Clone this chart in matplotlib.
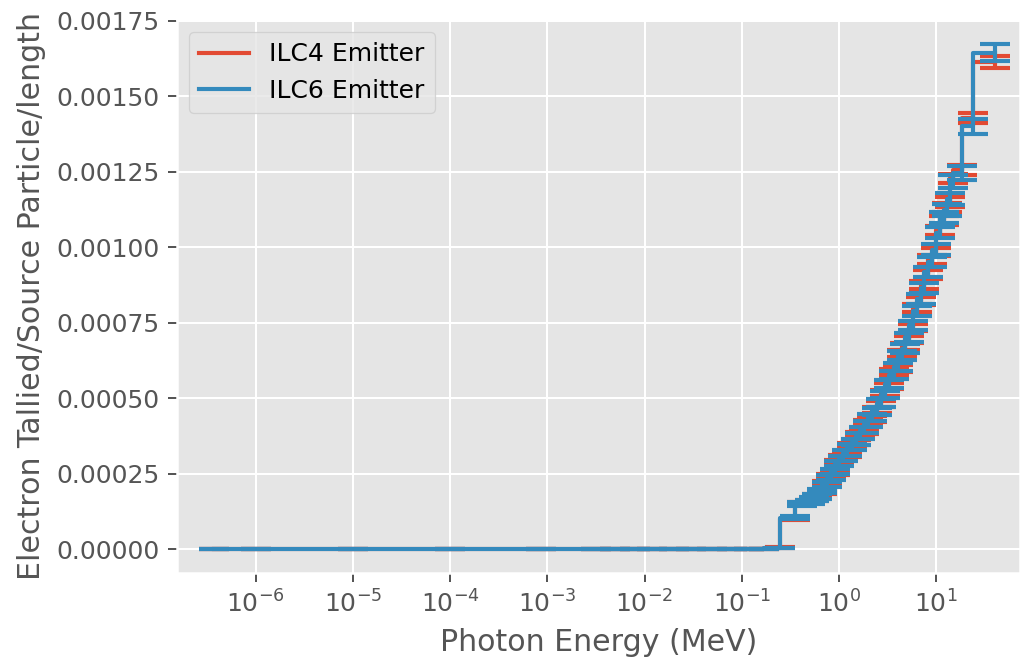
import matplotlib
matplotlib.use("Agg")
import matplotlib.pyplot as plt
from matplotlib.ticker import NullLocator

plt.style.use("ggplot")

# Upper bin edges (MeV)
energy = [3.7e-7, 1e-6, 1e-5, 1e-4, 8.6e-4, 3.2e-3, 5e-3, 8e-3, 0.012, 0.02,
          0.03, 0.05, 0.08, 0.12, 0.17, 0.245, 0.35, 0.42, 0.5, 0.55,
          0.6, 0.67, 0.75, 0.82, 0.9, 1.0, 1.1, 1.22, 1.35, 1.5,
          1.65, 1.8, 2.0, 2.2, 2.45, 2.7, 3.0, 3.3, 3.65, 4.0,
          4.4, 4.8, 5.3, 5.8, 6.3, 6.9, 7.5, 8.2, 9.0, 10.0,
          11.0, 12.0, 13.0, 14.0, 15.0, 18.5, 24.0, 40.0]

ilc4_vals = [0, 0, 0, 0, 0, 0, 0, 0, 0, 0,
             0, 0, 0, 0, 0, 0.000005, 0.000101, 0.000152, 0.000158, 0.000163,
             0.000178, 0.000188, 0.000218, 0.000240, 0.000252, 0.000287, 0.000305, 0.000314, 0.000344, 0.000352,
             0.000380, 0.000390, 0.000420, 0.000431, 0.000462, 0.000480, 0.000518, 0.000540, 0.000586, 0.000598,
             0.000648, 0.000672, 0.000695, 0.000735, 0.000798, 0.000822, 0.000875, 0.000910, 0.000960, 0.000985,
             0.001056, 0.001090, 0.001131, 0.001150, 0.001228, 0.001256, 0.001429, 0.001613]

ilc4_err = [0, 0, 0, 0, 0, 0, 0, 0, 0, 0,
            0, 0, 0, 0, 0, 0.000001, 0.000004, 0.000005, 0.000005, 0.000005,
            0.000006, 0.000006, 0.000006, 0.000007, 0.000007, 0.000007, 0.000008, 0.000008, 0.000008, 0.000008,
            0.000009, 0.000009, 0.000009, 0.000009, 0.000010, 0.000010, 0.000010, 0.000010, 0.000011, 0.000011,
            0.000011, 0.000012, 0.000012, 0.000012, 0.000013, 0.000013, 0.000013, 0.000014, 0.000014, 0.000014,
            0.000015, 0.000015, 0.000015, 0.000016, 0.000016, 0.000016, 0.000017, 0.000019]

ilc6_vals = [0, 0, 0, 0, 0, 0, 0, 0, 0, 0,
             0, 0, 0, 0, 0, 0.000004, 0.000103, 0.000150, 0.000155, 0.000166,
             0.000174, 0.000192, 0.000214, 0.000236, 0.000257, 0.000283, 0.000300, 0.000318, 0.000338, 0.000356,
             0.000373, 0.000394, 0.000414, 0.000436, 0.000456, 0.000484, 0.000511, 0.000546, 0.000578, 0.000604,
             0.000641, 0.000664, 0.000701, 0.000742, 0.000789, 0.000829, 0.000866, 0.000918, 0.000951, 0.000992,
             0.001048, 0.001098, 0.001122, 0.001161, 0.001218, 0.001246, 0.001400, 0.001645]

ilc6_err = [0, 0, 0, 0, 0, 0, 0, 0, 0, 0,
            0, 0, 0, 0, 0, 0.000001, 0.000005, 0.000006, 0.000006, 0.000007,
            0.000007, 0.000007, 0.000008, 0.000008, 0.000008, 0.000009, 0.000009, 0.000009, 0.000010, 0.000010,
            0.000010, 0.000011, 0.000011, 0.000011, 0.000012, 0.000012, 0.000012, 0.000013, 0.000013, 0.000013,
            0.000014, 0.000014, 0.000015, 0.000015, 0.000016, 0.000016, 0.000017, 0.000017, 0.000018, 0.000018,
            0.000019, 0.000019, 0.000020, 0.000020, 0.000021, 0.000022, 0.000024, 0.000027]

series = [("ILC4 Emitter", ilc4_vals, ilc4_err, "#E24A33"),
          ("ILC6 Emitter", ilc6_vals, ilc6_err, "#348ABD")]

DPI = 180
fig = plt.figure(figsize=(1020 / DPI, 665 / DPI), dpi=DPI)
ax = fig.add_axes([0.1735, 0.1383, 0.8265, 0.8317])

for label, vals, err, col in series:
    ax.step(energy, vals, where="pre", color=col, lw=1.65, label=label)
    ax.errorbar(energy, vals, yerr=err, fmt="none", ecolor=col,
                elinewidth=1.65, capsize=6, capthick=1.65)

ax.set_xscale("log")
ax.set_xlim(1.55e-7, 72.8)
ax.set_ylim(-0.0000795, 0.001753)
ax.xaxis.set_minor_locator(NullLocator())
ax.set_xlabel("Photon Energy (MeV)")
ax.set_ylabel("Electron Tallied/Source Particle/length")
ax.legend(loc="upper left")

fig.savefig("out.png", dpi=DPI)
